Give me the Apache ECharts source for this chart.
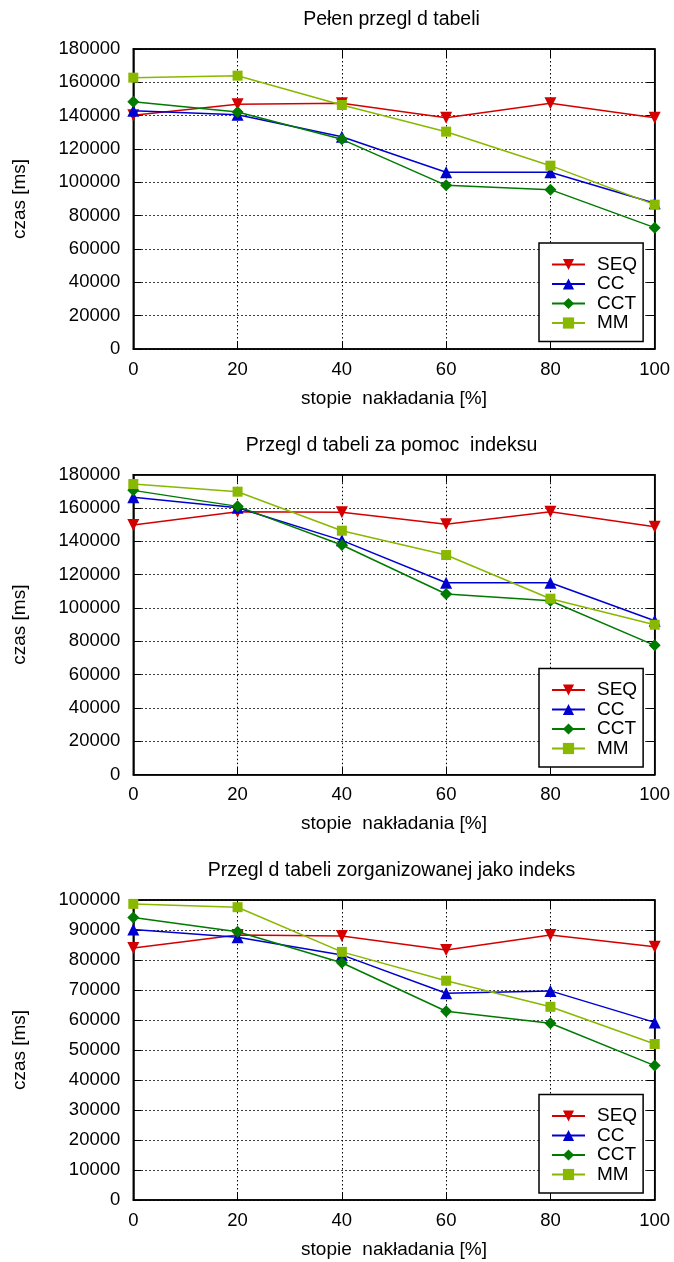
<!DOCTYPE html>
<html>
<head>
<meta charset="utf-8">
<script src="https://cdn.jsdelivr.net/npm/echarts@6/dist/echarts.min.js"></script>
<style>
html,body{margin:0;padding:0;background:#fff;}
#chart{width:674px;height:1262px;}
</style>
</head>
<body>
<div id="chart"></div>
<script>
const xs = [0, 20, 40, 60, 80, 100];
const names = ['SEQ', 'CC', 'CCT', 'MM'];
const titles = ['Pełen przegl d tabeli', 'Przegl d tabeli za pomoc  indeksu', 'Przegl d tabeli zorganizowanej jako indeks'];
const xName = 'stopie  nakładania [%]';
const yName = 'czas [ms]';

// Chart 1
const seq1 = [140200, 146800, 147400, 138800, 147400, 138800];
const cc1  = [143000, 140600, 127400, 106000, 106000, 87400];
const cct1 = [148400, 142200, 125800, 98200, 95600, 72800];
const mm1  = [162800, 164000, 146400, 130400, 110000, 86600];
// Chart 2
const seq2 = [149800, 157800, 157400, 150200, 157800, 148800];
const cc2  = [166400, 160200, 140600, 115200, 115200, 92400];
const cct2 = [170600, 161000, 137800, 108400, 104400, 77600];
const mm2  = [174400, 169800, 146400, 131800, 105600, 90000];
// Chart 3
const seq3 = [84000, 88300, 88000, 83300, 88300, 84400];
const cc3  = [90200, 87600, 81700, 68900, 69700, 59200];
const cct3 = [94200, 89400, 79100, 62900, 58900, 44800];
const mm3  = [98700, 97600, 82700, 73100, 64400, 52000];

const yMax = [180000, 180000, 100000];
const yInterval = [20000, 20000, 10000];

const panels = [
  [seq1, cc1, cct1, mm1],
  [seq2, cc2, cct2, mm2],
  [seq3, cc3, cct3, mm3]
];

const FONT = '"Liberation Sans", Arial, Helvetica, sans-serif';
const colors = ['#d40000', '#0000d0', '#007a00', '#88b800'];
const symbols = ['triangle', 'triangle', 'diamond', 'rect'];
const symbolRot = [180, 0, 0, 0];
const symbolSizes = [12, 12, 12, 10];

const gridTops = [49, 474.7, 900];
const plotLeft = 133.3, plotW = 521.4, plotH = 300;
const legendTops = [243, 668.5, 1094.5];
const titleYs = [20, 446, 871];

const grid = [], xAxis = [], yAxis = [], series = [], legend = [], graphic = [];

panels.forEach((vals, p) => {
  grid.push({left: plotLeft, top: gridTops[p], width: plotW, height: plotH,
    show: true, borderColor: '#000', borderWidth: 1.5, backgroundColor: 'transparent', containLabel: false});
  xAxis.push({type: 'value', gridIndex: p, min: 0, max: 100, interval: 20,
    name: xName, nameLocation: 'middle', nameGap: 40,
    nameTextStyle: {fontFamily: FONT, fontSize: 19, color: '#000'},
    axisLine: {show: true, onZero: false, lineStyle: {color: '#000', width: 1.5}},
    axisTick: {show: true, inside: true, length: 8, lineStyle: {color: '#000'}},
    axisLabel: {fontFamily: FONT, fontSize: 18.5, color: '#000', margin: 11},
    splitLine: {show: true, lineStyle: {color: '#000', type: [1.5, 2.5], width: 1}}
  });
  xAxis.push({type: 'value', gridIndex: p, position: 'top', min: 0, max: 100, interval: 20,
    axisLine: {show: true, onZero: false, lineStyle: {color: '#000', width: 1.5}},
    axisTick: {show: true, inside: true, length: 8, lineStyle: {color: '#000'}},
    axisLabel: {show: false}, splitLine: {show: false}
  });
  yAxis.push({type: 'value', gridIndex: p, min: 0, max: yMax[p], interval: yInterval[p],
    name: yName, nameLocation: 'middle', nameGap: 104,
    nameTextStyle: {fontFamily: FONT, fontSize: 19, color: '#000'},
    axisLine: {show: true, onZero: false, lineStyle: {color: '#000', width: 1.5}},
    axisTick: {show: true, inside: true, length: 8, lineStyle: {color: '#000'}},
    axisLabel: {fontFamily: FONT, fontSize: 18.5, color: '#000', margin: 13, formatter: v => String(v)},
    splitLine: {show: true, lineStyle: {color: '#000', type: [1.5, 2.5], width: 1}}
  });
  yAxis.push({type: 'value', gridIndex: p, position: 'right', min: 0, max: yMax[p], interval: yInterval[p],
    axisLine: {show: true, onZero: false, lineStyle: {color: '#000', width: 1.5}},
    axisTick: {show: true, inside: true, length: 8, lineStyle: {color: '#000'}},
    axisLabel: {show: false}, splitLine: {show: false}
  });
  vals.forEach((arr, s) => {
    series.push({
      type: 'line', name: names[s], xAxisIndex: p * 2, yAxisIndex: p * 2,
      data: xs.map((x, i) => [x, arr[i]]),
      symbol: symbols[s], symbolSize: symbolSizes[s], symbolRotate: symbolRot[s],
      showAllSymbol: true, animation: false,
      lineStyle: {color: colors[s], width: 1.5},
      itemStyle: {color: colors[s]},
      z: 3 + s
    });
  });
  legend.push({
    data: names, orient: 'vertical', left: 539, top: legendTops[p],
    backgroundColor: '#fff', borderColor: '#000', borderWidth: 1.5,
    padding: [12, 6, 9, 12], itemGap: 0.5, itemWidth: 33, itemHeight: 14,
    textStyle: {fontFamily: FONT, fontSize: 19, color: '#000', padding: [0, 0, 0, 7]},
    selectedMode: false
  });
  graphic.push({
    type: 'text', x: 391.5, y: titleYs[p],
    style: {text: titles[p], font: '19.5px ' + FONT, fill: '#000', textAlign: 'center', textVerticalAlign: 'middle'}
  });
});

const chart = echarts.init(document.getElementById('chart'));
chart.setOption({
  animation: false,
  backgroundColor: '#fff',
  grid, xAxis, yAxis, series, legend, graphic
});
</script>
</body>
</html>
